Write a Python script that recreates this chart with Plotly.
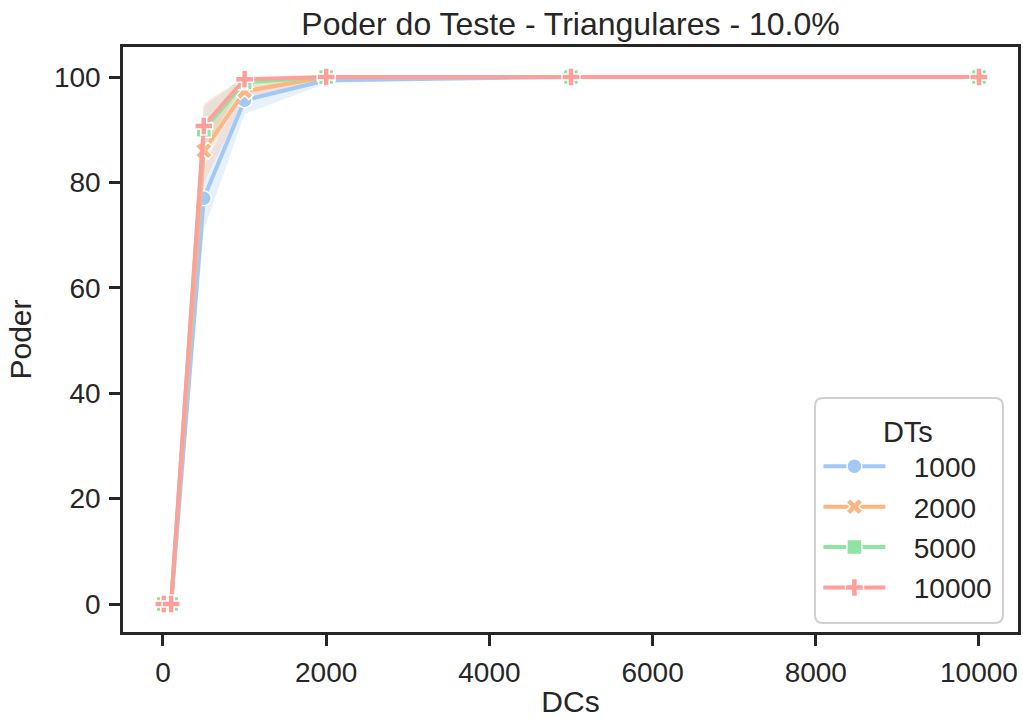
import plotly.graph_objects as go

# Number of DCs (x axis)
dcs = [10, 100, 500, 1000, 2000, 5000, 10000]

# Mean power (%) for each number of DTs
power_1000 = [0.0, 0.0, 77.0, 95.6, 99.4, 100.0, 100.0]
power_2000 = [0.0, 0.0, 86.0, 97.3, 100.0, 100.0, 100.0]
power_5000 = [0.0, 0.0, 90.0, 99.0, 100.0, 100.0, 100.0]
power_10000 = [0.0, 0.0, 90.7, 99.6, 100.0, 100.0, 100.0]

# Confidence bands (lower / upper)
low_1000 = [0.0, 0.0, 71.0, 93.0, 98.8, 100.0, 100.0]
high_1000 = [0.0, 0.0, 83.0, 98.0, 100.0, 100.0, 100.0]
low_2000 = [0.0, 0.0, 80.0, 95.5, 99.8, 100.0, 100.0]
high_2000 = [0.0, 0.0, 91.5, 99.0, 100.0, 100.0, 100.0]
low_5000 = [0.0, 0.0, 85.0, 98.0, 100.0, 100.0, 100.0]
high_5000 = [0.0, 0.0, 94.5, 100.0, 100.0, 100.0, 100.0]
low_10000 = [0.0, 0.0, 86.5, 99.0, 100.0, 100.0, 100.0]
high_10000 = [0.0, 0.0, 95.0, 100.0, 100.0, 100.0, 100.0]

x_ticks = [0, 2000, 4000, 6000, 8000, 10000]
y_ticks = [0, 20, 40, 60, 80, 100]

series_names = ["1000", "2000", "5000", "10000"]
means = [power_1000, power_2000, power_5000, power_10000]
lows = [low_1000, low_2000, low_5000, low_10000]
highs = [high_1000, high_2000, high_5000, high_10000]
colors = ["#a1c9f4", "#ffb482", "#8de5a1", "#ff9f9b"]
band_colors = ["rgba(161,201,244,0.25)", "rgba(255,180,130,0.25)",
               "rgba(141,229,161,0.25)", "rgba(255,159,155,0.25)"]
symbols = ["circle", "x", "square", "cross"]

fig = go.Figure()

# Shaded bands first so lines sit on top
for name, lo, hi, bc in zip(series_names, lows, highs, band_colors):
    fig.add_trace(go.Scatter(
        x=dcs + dcs[::-1], y=hi + lo[::-1], fill="toself",
        fillcolor=bc, line=dict(width=0), mode="lines",
        hoverinfo="skip", showlegend=False))

# Legend labels get a little non-breaking padding after the key symbol
pad = "\u00a0\u00a0\u00a0"
for name, y, c, s in zip(series_names, means, colors, symbols):
    fig.add_trace(go.Scatter(
        x=dcs, y=y, name=pad + name, mode="lines+markers", legendgroup=name,
        line=dict(color=c, width=4),
        marker=dict(symbol=s, size=15, color=c,
                    line=dict(color="white", width=1.5))))

axis_common = dict(
    showgrid=False, zeroline=False, showline=True, linecolor="#262626",
    linewidth=2.5, mirror=True, ticks="outside", ticklen=11, tickwidth=2.5,
    tickcolor="#262626", tickfont=dict(size=28, color="#262626"),
    ticklabelstandoff=3, automargin=False,
)

# Rounded legend frame (paper coordinates)
fx0, fx1, fy0, fy1, r = 0.7732, 0.9832, 0.0154, 0.400, 0.009
ry = r * 895 / 585
frame_path = (
    f"M {fx0 + r},{fy0} L {fx1 - r},{fy0} Q {fx1},{fy0} {fx1},{fy0 + ry} "
    f"L {fx1},{fy1 - ry} Q {fx1},{fy1} {fx1 - r},{fy1} "
    f"L {fx0 + r},{fy1} Q {fx0},{fy1} {fx0},{fy1 - ry} "
    f"L {fx0},{fy0 + ry} Q {fx0},{fy0} {fx0 + r},{fy0} Z"
)
fig.add_shape(type="path", path=frame_path, xref="paper", yref="paper",
              fillcolor="rgba(255,255,255,0.8)",
              line=dict(color="#d0d0d0", width=2), layer="above")

fig.update_layout(
    width=1023, height=718,
    margin=dict(l=123, r=5, t=47, b=86),
    paper_bgcolor="white", plot_bgcolor="white",
    font=dict(family="Liberation Sans, Arial, sans-serif", color="#262626"),
    title=dict(text="Poder do Teste - Triangulares - 10.0%",
               xref="paper", x=0.5, xanchor="center",
               y=0.983, yanchor="top",
               font=dict(size=32, color="#262626")),
    xaxis=dict(range=[-490, 10478], tickvals=x_ticks,
               ticktext=[str(v) for v in x_ticks],
               title=dict(text="DCs", font=dict(size=30), standoff=8),
               **axis_common),
    yaxis=dict(range=[-5.3, 105.7], tickvals=y_ticks,
               ticktext=[str(v) for v in y_ticks],
               title=dict(text="Poder", font=dict(size=30), standoff=14),
               **axis_common),
    legend=dict(
        title=dict(text="DTs", side="top center", font=dict(size=29)),
        font=dict(size=28, color="#262626"),
        x=0.777, y=0.390, xanchor="left", yanchor="top",
        bgcolor="rgba(0,0,0,0)", borderwidth=0, itemwidth=62,
        tracegroupgap=1),
)

fig.write_html("out.html")
